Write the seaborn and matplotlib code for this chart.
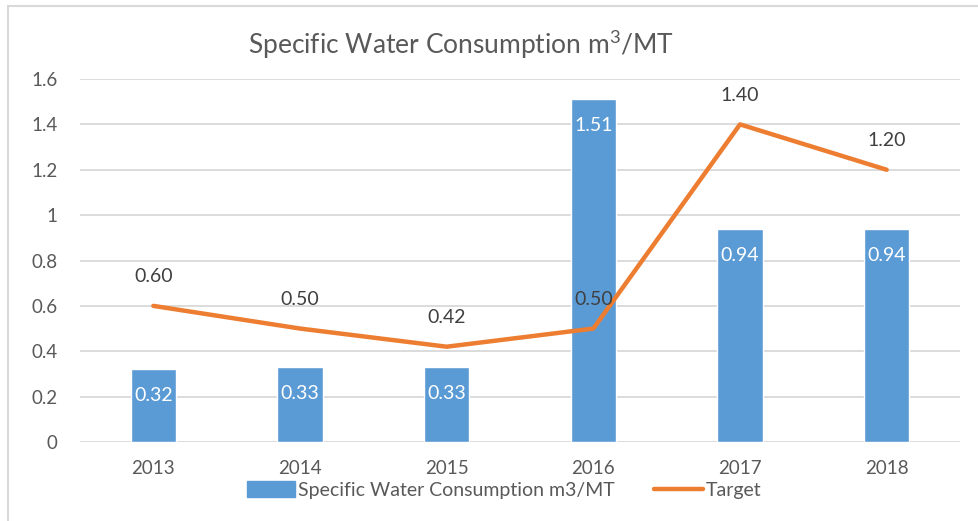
import matplotlib.pyplot as plt
import matplotlib.patches as mpatches
from matplotlib.lines import Line2D
import numpy as np
import seaborn as sns

years = ["2013", "2014", "2015", "2016", "2017", "2018"]
consumption = [0.32, 0.33, 0.33, 1.51, 0.94, 0.94]
target = [0.60, 0.50, 0.42, 0.50, 1.40, 1.20]
y_ticks = [0, 0.2, 0.4, 0.6, 0.8, 1.0, 1.2, 1.4, 1.6]
y_tick_labels = ["0", "0.2", "0.4", "0.6", "0.8", "1", "1.2", "1.4", "1.6"]

BAR_COLOR = "#5B9BD5"
LINE_COLOR = "#ED7D31"
GRID_COLOR = "#D9D9D9"
TEXT_COLOR = "#595959"

sns.set_theme(style="white")
plt.rcParams["font.family"] = ["Lato", "DejaVu Sans"]

fig = plt.figure(figsize=(9.79, 5.21), dpi=100)
ax = fig.add_axes([80 / 979, 1 - 442 / 521, 880 / 979, 363 / 521])

sns.barplot(x=years, y=consumption, color=BAR_COLOR, width=0.31, saturation=1, ax=ax, zorder=2)
sns.lineplot(x=np.arange(len(years)), y=target, color=LINE_COLOR, linewidth=3.2, ax=ax, zorder=3,
             solid_capstyle="round", solid_joinstyle="round")

ax.set_xlim(-0.5, len(years) - 0.5)
ax.set_ylim(0, 1.6)
ax.set_yticks(y_ticks)
ax.set_yticklabels(y_tick_labels)
ax.set_xticks(range(len(years)))
ax.set_xticklabels(years)
ax.tick_params(axis="y", length=0, pad=16, labelsize=13.5, labelcolor=TEXT_COLOR)
ax.tick_params(axis="x", length=0, pad=13, labelsize=13.5, labelcolor=TEXT_COLOR)
ax.grid(axis="y", color=GRID_COLOR, linewidth=1.3, zorder=0)
ax.set_axisbelow(True)
for side in ["top", "right", "left", "bottom"]:
    ax.spines[side].set_visible(False)
ax.set_xlabel("")
ax.set_ylabel("")

# bar labels (inside, near top)
for i, v in enumerate(consumption):
    ax.annotate(f"{v:.2f}", (i, v), xytext=(0, -19), textcoords="offset points",
                ha="center", va="center", color="white", fontsize=14)

# line labels (above points)
for i, v in enumerate(target):
    ax.annotate(f"{v:.2f}", (i, v), xytext=(0, 21), textcoords="offset points",
                ha="center", va="center", color="#404040", fontsize=14)

fig.text(461 / 979, 1 - 45 / 521, "Specific Water Consumption m$^{3}$/MT", ha="center", va="center",
         fontsize=19, color=TEXT_COLOR)

handles = [
    mpatches.Patch(color=BAR_COLOR, label="Specific Water Consumption m3/MT"),
    Line2D([0], [0], color=LINE_COLOR, linewidth=3.2, solid_capstyle="round", label="Target"),
]
fig.legend(handles=handles, loc="center", bbox_to_anchor=(504 / 979, 1 - 490 / 521), ncol=2,
           frameon=False, fontsize=14, labelcolor=TEXT_COLOR, handlelength=2.5, handleheight=0.9,
           handletextpad=0.15, columnspacing=2.0, borderpad=0)

# outer chart border
fig.patches.append(mpatches.Rectangle((8 / 979, -0.1), 1.0, 1.1 - 6 / 521, transform=fig.transFigure,
                                      fill=False, edgecolor=GRID_COLOR, linewidth=1.5))

plt.rcParams["mathtext.fontset"] = "custom"
plt.rcParams["mathtext.rm"] = "Lato"
plt.rcParams["mathtext.it"] = "Lato"
plt.rcParams["mathtext.default"] = "regular"

fig.savefig("out.png", dpi=100)
